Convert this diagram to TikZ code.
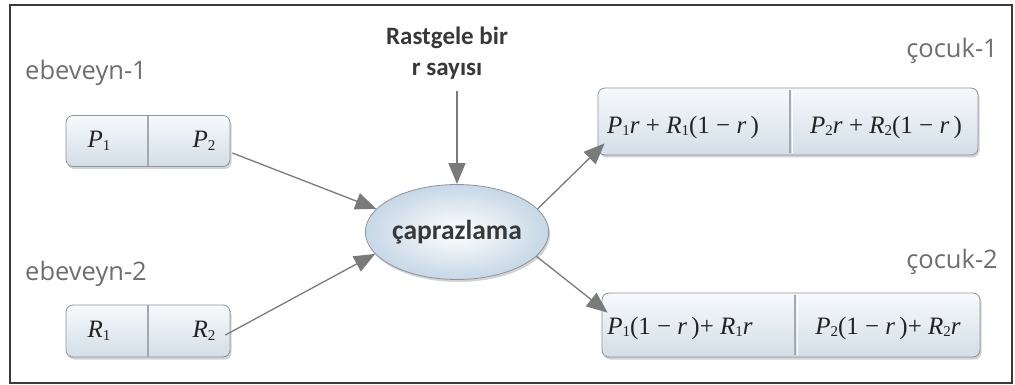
\documentclass[tikz,border=0pt]{standalone}
\usepackage{fontspec}
\setmainfont{Liberation Serif}
\newfontfamily\labelfont{Open Sans}
\newfontfamily\headfont{Carlito}
\usetikzlibrary{shapes.geometric,shadows,arrows.meta}

\definecolor{framecol}{HTML}{3A3A3A}
\definecolor{boxline}{HTML}{8C949C}
\definecolor{boxtop}{HTML}{F7F9FB}
\definecolor{boxbot}{HTML}{D3DEE8}
\definecolor{ellout}{HTML}{C6D7E6}
\definecolor{arrowcol}{HTML}{7A7A7A}
\definecolor{labelcol}{HTML}{6E6E6E}
\definecolor{headcol}{HTML}{383838}
\definecolor{mathcol}{HTML}{222222}

% upright subscript digit set close to the baseline
\newcommand\lowidx[1]{\raisebox{-0.25ex}{\fontsize{15}{15}\selectfont #1}}
\newcommand\var[1]{\textit{#1}}

\tikzset{
  outerframe/.style={draw=framecol, line width=1.6pt},
  genebox/.style={draw=boxline, line width=0.8pt, rounded corners=7pt,
    top color=boxtop, bottom color=boxbot, inner sep=0pt,
    drop shadow={shadow xshift=1.5pt, shadow yshift=-2.5pt, opacity=0.35}},
  divider/.style={draw=boxline!80, line width=1.2pt},
  dividerlight/.style={draw=white, line width=1pt},
  gene/.style={font=\fontsize{25}{25}\selectfont, text=mathcol, inner sep=0pt},
  parentlabel/.style={font=\labelfont\fontsize{25.5}{25.5}\selectfont, text=labelcol, inner sep=0pt},
  headtext/.style={font=\headfont\bfseries\fontsize{25}{31}\selectfont, text=headcol, align=center, inner sep=0pt},
  crossnode/.style={ellipse, draw=boxline, line width=0.8pt, minimum width=182pt, minimum height=95pt,
    inner sep=0pt, inner color=white, outer color=ellout,
    drop shadow={shadow xshift=1.5pt, shadow yshift=-2.5pt, opacity=0.35},
    font=\headfont\bfseries\fontsize{27.5}{27.5}\selectfont, text=headcol},
  flow/.style={draw=arrowcol, line width=1.3pt, -{Triangle[length=21pt,width=17pt]}}
}

\begin{document}
\begin{tikzpicture}[x=1pt,y=-1pt]
\useasboundingbox (0,0) rectangle (1015,385);
\draw[outerframe] (10,5) rectangle (1012,383);

% parents
\node[parentlabel, anchor=base west] (lab1) at (25,80) {ebeveyn-1};
\node[parentlabel, anchor=base west] (lab2) at (25,280) {ebeveyn-2};

\node[genebox, minimum width=164pt, minimum height=51pt] (pbox) at (148,141) {};
\draw[divider] (148,116) -- (148,166);
\node[gene] (p1) at (99,141) {\var{P}\lowidx{1}};
\node[gene] (p2) at (204,141) {\var{P}\lowidx{2}};

\node[genebox, minimum width=164pt, minimum height=52pt] (rbox) at (148,331) {};
\draw[divider] (148,305) -- (148,357);
\node[gene] (r1) at (99,331) {\var{R}\lowidx{1}};
\node[gene] (r2) at (204,331) {\var{R}\lowidx{2}};

% random number and crossover
\node[headtext] (rnd) at (447,53) {Rastgele bir\\r sayısı};
\node[crossnode] (cross) at (457,232) {çaprazlama};

% children
\node[parentlabel, anchor=base east] (lab3) at (998,58) {çocuk-1};
\node[parentlabel, anchor=base east] (lab4) at (998,268) {çocuk-2};

\node[genebox, minimum width=380pt, minimum height=67pt] (c1) at (788,121.5) {};
\draw[dividerlight] (792,90) -- (792,153);
\draw[divider] (790,90) -- (790,153);
\node[gene] (c1a) at (683,127) {\var{P}\lowidx{1}\var{r} + \var{R}\lowidx{1}(1 − \var{r}\,)};
\node[gene] (c1b) at (886,127) {\var{P}\lowidx{2}\var{r} + \var{R}\lowidx{2}(1 − \var{r}\,)};

\node[genebox, minimum width=378pt, minimum height=64pt] (c2) at (791,325) {};
\draw[dividerlight] (797,295) -- (797,355);
\draw[divider] (795,295) -- (795,355);
\node[gene] (c2a) at (680,328) {\var{P}\lowidx{1}(1 − \var{r}\,)+ \var{R}\lowidx{1}\var{r}};
\node[gene] (c2b) at (888,328) {\var{P}\lowidx{2}(1 − \var{r}\,)+ \var{R}\lowidx{2}\var{r}};

% connectors
\draw[flow] ([xshift=2pt,yshift=-12pt]pbox.east) -- (cross.164);
\draw[flow] ([xshift=-5pt,yshift=-4pt]rbox.east) -- (cross.195);
\draw[flow] (rnd.south -| cross.north) ++(0,12) -- (cross.north);
\draw[flow] (cross.16) -- ([xshift=7pt,yshift=12pt]c1.south west);
\draw[flow] (cross.-17) -- ([xshift=6pt,yshift=-20pt]c2.north west);
\end{tikzpicture}
\end{document}
